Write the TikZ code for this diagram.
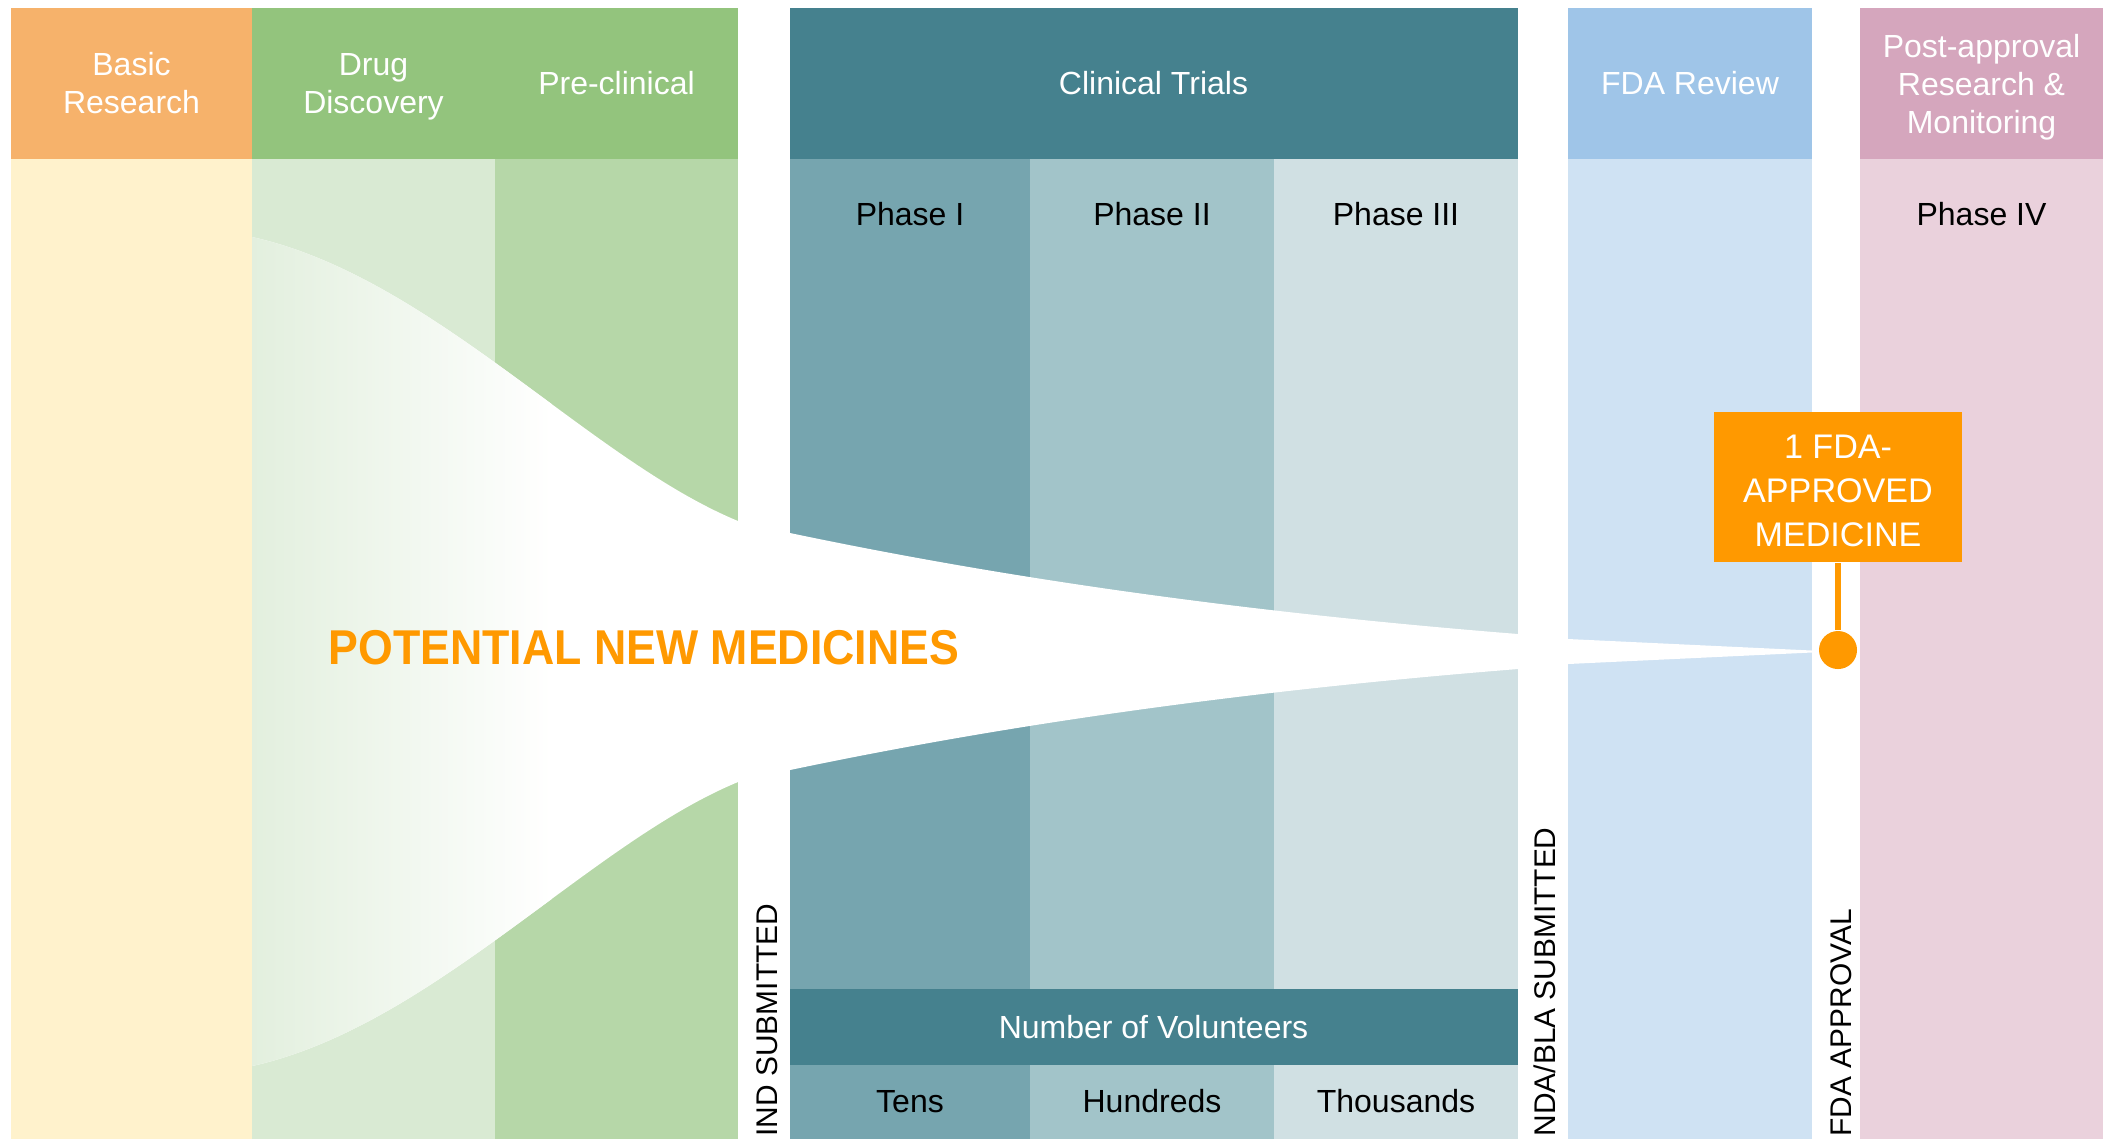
\documentclass[tikz,border=0pt]{standalone}
\usepackage{fontspec}
\setmainfont{Liberation Sans}
\definecolor{orgH}{HTML}{F6B26B}
\definecolor{orgB}{HTML}{FFF2CC}
\definecolor{grnH}{HTML}{93C47D}
\definecolor{grnBa}{HTML}{D9EAD3}
\definecolor{grnBb}{HTML}{B6D7A8}
\definecolor{tealH}{HTML}{45818E}
\definecolor{phA}{HTML}{76A5AF}
\definecolor{phB}{HTML}{A2C4C9}
\definecolor{phC}{HTML}{D0E0E3}
\definecolor{bluH}{HTML}{9FC5E8}
\definecolor{bluB}{HTML}{CFE2F3}
\definecolor{pnkH}{HTML}{D5A6BD}
\definecolor{pnkB}{HTML}{EAD1DC}
\definecolor{accent}{HTML}{FF9900}
\newcommand\HdrFont{\fontsize{9.1}{10.8}\selectfont}
\newcommand\PhFont{\fontsize{9.1}{10.8}\selectfont}
\newcommand\VertLabFont{\fontsize{8.5}{10}\selectfont}
\newcommand\BoxFont{\fontsize{9.7}{12.5}\selectfont}
\newcommand\FunnelPath{(252,237) .. controls (432,277) and (588,459) .. (738,521) -- (790,533) .. controls (1033,584) and (1275,614.6) .. (1518,634) -- (1568,639) -- (1812,650.5) -- (1812,652.5) -- (1568,664) -- (1518,669) .. controls (1275,688.4) and (1033,719) .. (790,770) -- (738,782) .. controls (588,844) and (432,1026) .. (252,1066) -- cycle}
\tikzset{
  colbody/.style={rectangle, inner sep=0, outer sep=0, anchor=north west, minimum height=9.79cm},
  hdrbox/.style={rectangle, inner sep=0, outer sep=0, anchor=north west, minimum height=1.51cm},
  hdrtxt/.style={inner sep=0, text=white, align=center, font=\HdrFont},
  phasetxt/.style={inner sep=0, text=black, font=\PhFont},
  vlabel/.style={rotate=90, anchor=base west, inner sep=0, text=black, font=\VertLabFont},
}
\begin{document}
\begin{tikzpicture}[x=0.01cm, y=-0.01cm]
\useasboundingbox (0,0) rectangle (2109,1138);
% column bodies
\node[colbody, fill=orgB, minimum width=2.41cm] (basicB) at (11,159) {};
\node[colbody, fill=grnBa, minimum width=2.43cm] (drugB) at (252,159) {};
\node[colbody, fill=grnBb, minimum width=2.43cm] (preB) at (495,159) {};
\node[colbody, fill=phA, minimum width=2.405cm] (phaB) at (789.5,159) {};
\node[colbody, fill=phB, minimum width=2.44cm] (phbB) at (1030,159) {};
\node[colbody, fill=phC, minimum width=2.435cm] (phcB) at (1274,159) {};
\node[colbody, fill=bluB, minimum width=2.44cm] (fdaB) at (1568,159) {};
\node[colbody, fill=pnkB, minimum width=2.43cm] (postB) at (1860,159) {};
% funnel
\fill[white] \FunnelPath;
\begin{scope}
\clip \FunnelPath;
\shade[left color=grnBa, right color=white] (152,200) rectangle (552,1100);
\end{scope}
% volunteers band
\node[rectangle, inner sep=0, outer sep=0, anchor=north west, fill=tealH, minimum width=7.28cm, minimum height=0.76cm] (volB) at (789.5,989) {};
\node[hdrtxt] (volT) at (1153.5,1027) {Number of Volunteers};
\node[phasetxt] (tens) at (910,1101.5) {Tens};
\node[phasetxt] (hund) at (1152,1101.5) {Hundreds};
\node[phasetxt] (thou) at (1396,1101.5) {Thousands};
% headers
\node[hdrbox, fill=orgH, minimum width=2.41cm] (basicH) at (11,8) {};
\node[hdrbox, fill=grnH, minimum width=4.86cm] (greenH) at (252,8) {};
\node[hdrbox, fill=tealH, minimum width=7.28cm] (clinH) at (789.5,8) {};
\node[hdrbox, fill=bluH, minimum width=2.44cm] (fdaH) at (1568,8) {};
\node[hdrbox, fill=pnkH, minimum width=2.43cm] (postH) at (1860,8) {};
\node[hdrtxt] (basicT) at (131.5,83.3) {Basic\\Research};
\node[hdrtxt] (drugT) at (373.5,86.8) {Drug\\Discovery};
\node[hdrtxt] (preT) at (616.5,83.5) {Pre-clinical};
\node[hdrtxt] (clinT) at (1153.5,83.5) {Clinical Trials};
\node[hdrtxt] (fdaT) at (1690,83.5) {FDA Review};
\node[hdrtxt] (postT) at (1981.5,86.8) {Post-approval\\Research \&\\Monitoring};
% phase labels
\node[phasetxt] (pI) at (910,214) {Phase I};
\node[phasetxt] (pII) at (1152,214) {Phase II};
\node[phasetxt] (pIII) at (1396,214) {Phase III};
\node[phasetxt] (pIV) at (1981.5,214) {Phase IV};
% vertical milestone labels
\node[vlabel] (ind) at (777,1137) {IND SUBMITTED};
\node[vlabel] (nda) at (1555,1137) {NDA/BLA SUBMITTED};
\node[vlabel] (fdaA) at (1851,1137) {FDA APPROVAL};
% big label
\node[anchor=west, inner sep=0, text=accent, font=\bfseries\fontsize{13.9}{16}\selectfont] (pot) at (328,647.5) {\scalebox{0.914}[1]{POTENTIAL NEW MEDICINES}};
% approved callout
\node[rectangle, fill=accent, inner sep=0, minimum width=2.48cm, minimum height=1.5cm] (appr) at (1838,487) {};
\node[inner sep=0, text=white, align=center, font=\BoxFont] (apprT) at (1838,490.5) {1 FDA-\\APPROVED\\MEDICINE};
\node[circle, fill=accent, inner sep=0, minimum size=0.38cm] (dot) at (1838,650) {};
\draw[accent, line width=1.55pt] (appr.south) -- (dot.north);
\end{tikzpicture}
\end{document}
